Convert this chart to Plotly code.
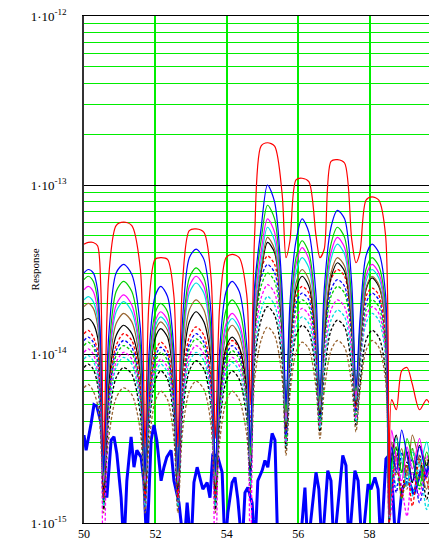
import plotly.graph_objects as go

# shared x positions (lobes separated by nulls)
x_grid = [
    50.00, 50.12, 50.26, 50.38, 50.47, 50.55,
    50.69, 50.90, 51.11, 51.34, 51.58, 51.71,
    51.82, 51.99, 52.15, 52.34, 52.52, 52.63,
    52.76, 52.95, 53.14, 53.36, 53.56, 53.68,
    53.80, 53.98, 54.15, 54.35, 54.56, 54.66,
    54.78, 54.96, 55.14, 55.34, 55.55, 55.66,
    55.77, 55.94, 56.11, 56.30, 56.50, 56.61,
    56.73, 56.92, 57.10, 57.30, 57.50, 57.62,
    57.73, 57.90, 58.07, 58.26, 58.45, 58.55,
    58.62, 58.75, 58.90, 59.05, 59.20, 59.40, 59.60, 59.80, 60.00,
]

# log10(Response)
red_solid = [
    -13.35, -13.34, -13.34, -13.36, -13.60, -14.60,
    -13.55, -13.24, -13.22, -13.24, -13.50, -14.55,
    -13.70, -13.44, -13.43, -13.44, -13.66, -14.55,
    -13.58, -13.27, -13.26, -13.28, -13.55, -14.50,
    -13.72, -13.43, -13.41, -13.43, -13.65, -14.30,
    -13.30, -12.77, -12.75, -12.77, -13.05, -13.43,
    -13.33, -12.97, -12.96, -12.98, -13.30, -13.43,
    -13.38, -12.86, -12.85, -12.87, -13.32, -13.46,
    -13.40, -13.09, -13.07, -13.09, -13.30, -14.95,
    -14.27, -14.33, -14.10, -14.08, -14.18, -14.33, -14.27, -14.33, -14.30,
]
blue_solid = [
    -13.52, -13.50, -13.52, -13.62, -13.95, -14.70,
    -13.90, -13.52, -13.47, -13.53, -13.85, -14.70,
    -14.00, -13.66, -13.60, -13.66, -13.98, -14.70,
    -13.80, -13.43, -13.38, -13.44, -13.76, -14.70,
    -13.98, -13.63, -13.57, -13.63, -13.95, -14.55,
    -13.60, -13.26, -13.00, -13.10, -13.62, -14.30,
    -13.70, -13.33, -13.20, -13.28, -13.65, -14.25,
    -13.62, -13.25, -13.15, -13.20, -13.58, -14.20,
    -13.80, -13.42, -13.35, -13.40, -13.65, -14.95,
    -14.55, -14.70, -14.45, -14.60, -14.75, -14.55, -14.70, -14.60, -14.65,
]
green_solid = [
    -13.56, -13.54, -13.57, -13.68, -14.00, -14.72,
    -14.00, -13.63, -13.57, -13.63, -13.95, -14.72,
    -14.08, -13.76, -13.70, -13.75, -14.05, -14.72,
    -13.90, -13.55, -13.49, -13.55, -13.86, -14.72,
    -14.05, -13.74, -13.68, -13.74, -14.02, -14.60,
    -13.65, -13.33, -13.12, -13.20, -13.70, -14.35,
    -13.78, -13.43, -13.33, -13.40, -13.75, -14.28,
    -13.70, -13.35, -13.25, -13.31, -13.68, -14.22,
    -13.85, -13.50, -13.43, -13.48, -13.72, -14.95,
    -14.65, -14.55, -14.70, -14.50, -14.62, -14.78, -14.58, -14.70, -14.62,
]
magenta_solid = [
    -13.62, -13.60, -13.63, -13.74, -14.05, -14.75,
    -14.05, -13.71, -13.65, -13.71, -14.00, -14.75,
    -14.12, -13.81, -13.75, -13.80, -14.10, -14.75,
    -13.95, -13.60, -13.54, -13.60, -13.90, -14.75,
    -14.12, -13.82, -13.76, -13.82, -14.08, -14.62,
    -13.72, -13.40, -13.20, -13.28, -13.75, -14.38,
    -13.82, -13.47, -13.37, -13.44, -13.80, -14.30,
    -13.75, -13.40, -13.31, -13.37, -13.72, -14.25,
    -13.88, -13.54, -13.47, -13.52, -13.76, -14.96,
    -14.45, -14.62, -14.75, -14.55, -14.68, -14.50, -14.72, -14.58, -14.66,
]
cyan_solid = [
    -13.68, -13.66, -13.69, -13.79, -14.08, -14.76,
    -14.08, -13.75, -13.69, -13.75, -14.03, -14.76,
    -14.15, -13.84, -13.78, -13.83, -14.12, -14.76,
    -13.98, -13.64, -13.58, -13.64, -13.93, -14.76,
    -14.15, -13.85, -13.79, -13.85, -14.10, -14.64,
    -13.76, -13.45, -13.25, -13.33, -13.78, -14.40,
    -13.86, -13.52, -13.43, -13.49, -13.83, -14.32,
    -13.78, -13.44, -13.35, -13.41, -13.75, -14.27,
    -13.90, -13.57, -13.50, -13.55, -13.78, -14.97,
    -14.70, -14.50, -14.62, -14.78, -14.58, -14.66, -14.52, -14.74, -14.60,
]
brown_solid = [
    -13.72, -13.70, -13.73, -13.83, -14.10, -14.78,
    -14.12, -13.82, -13.76, -13.81, -14.08, -14.78,
    -14.18, -13.87, -13.81, -13.86, -14.15, -14.78,
    -14.05, -13.74, -13.68, -13.74, -14.00, -14.78,
    -14.20, -13.89, -13.83, -13.89, -14.15, -14.66,
    -13.82, -13.50, -13.31, -13.38, -13.82, -14.42,
    -13.92, -13.58, -13.50, -13.56, -13.88, -14.34,
    -13.85, -13.52, -13.43, -13.48, -13.80, -14.28,
    -13.95, -13.61, -13.54, -13.59, -13.82, -14.97,
    -14.52, -14.68, -14.56, -14.72, -14.48, -14.64, -14.80, -14.56, -14.70,
]
black_solid = [
    -13.80, -13.79, -13.82, -13.90, -14.15, -14.80,
    -14.18, -13.89, -13.83, -13.88, -14.12, -14.80,
    -14.20, -13.91, -13.85, -13.90, -14.18, -14.80,
    -14.10, -13.81, -13.75, -13.81, -14.05, -14.80,
    -14.25, -13.96, -13.90, -13.96, -14.20, -14.68,
    -13.85, -13.52, -13.34, -13.40, -13.85, -14.44,
    -13.95, -13.62, -13.54, -13.60, -13.90, -14.36,
    -13.88, -13.55, -13.46, -13.51, -13.82, -14.30,
    -13.96, -13.62, -13.55, -13.60, -13.82, -14.98,
    -14.62, -14.48, -14.70, -14.58, -14.76, -14.54, -14.66, -14.50, -14.72,
]
red_dotted = [
    -13.88, -13.86, -13.90, -13.98, -14.25, -14.85,
    -14.22, -13.95, -13.88, -13.92, -14.20, -14.85,
    -14.28, -13.99, -13.93, -13.98, -14.25, -14.85,
    -14.18, -13.90, -13.84, -13.89, -14.15, -14.85,
    -14.26, -13.98, -13.92, -13.97, -14.22, -14.40,
    -13.80, -13.50, -13.42, -13.47, -13.80, -14.45,
    -13.98, -13.66, -13.60, -13.64, -13.95, -14.35,
    -13.88, -13.56, -13.50, -13.54, -13.85, -14.32,
    -13.98, -13.66, -13.61, -13.65, -13.90, -15.00,
    -14.80, -14.60, -14.85, -14.66, -14.90, -14.62, -14.75, -14.85, -14.68,
]
blue_dotted = [
    -13.92, -13.90, -13.93, -14.02, -14.28, -14.86,
    -14.26, -13.98, -13.92, -13.96, -14.22, -14.86,
    -14.30, -14.02, -13.96, -14.01, -14.28, -14.86,
    -14.22, -13.94, -13.88, -13.93, -14.18, -14.86,
    -14.30, -14.01, -13.95, -14.00, -14.25, -14.72,
    -13.85, -13.55, -13.47, -13.52, -13.84, -14.48,
    -14.00, -13.70, -13.64, -13.68, -13.98, -14.38,
    -13.92, -13.62, -13.56, -13.60, -13.88, -14.34,
    -14.02, -13.70, -13.64, -13.68, -13.92, -15.00,
    -14.66, -14.82, -14.58, -14.74, -14.62, -14.88, -14.70, -14.64, -14.78,
]
green_dotted = [
    -13.95, -13.93, -13.96, -14.05, -14.30, -14.87,
    -14.28, -14.01, -13.95, -13.99, -14.25, -14.87,
    -14.33, -14.05, -13.99, -14.04, -14.30, -14.87,
    -14.25, -13.97, -13.91, -13.96, -14.20, -14.87,
    -14.32, -14.04, -13.98, -14.03, -14.28, -14.74,
    -13.90, -13.60, -13.52, -13.57, -13.88, -14.50,
    -14.04, -13.74, -13.68, -13.72, -14.00, -14.40,
    -13.96, -13.66, -13.60, -13.64, -13.92, -14.36,
    -14.05, -13.74, -13.68, -13.72, -13.95, -15.00,
    -14.74, -14.60, -14.86, -14.68, -14.56, -14.80, -14.64, -14.90, -14.70,
]
magenta_dotted = [
    -13.99, -13.97, -14.00, -14.10, -14.35, -15.40,
    -14.32, -14.05, -13.99, -14.03, -14.28, -14.88,
    -14.36, -14.09, -14.03, -14.08, -14.33, -14.88,
    -14.28, -14.01, -13.95, -14.00, -14.25, -15.40,
    -14.35, -14.08, -14.02, -14.07, -14.30, -15.40,
    -13.95, -13.67, -13.59, -13.64, -13.94, -14.52,
    -14.08, -13.79, -13.73, -13.77, -14.04, -14.42,
    -14.02, -13.74, -13.68, -13.72, -13.98, -14.38,
    -14.08, -13.78, -13.72, -13.76, -13.98, -15.00,
    -14.90, -14.64, -14.78, -14.96, -14.70, -14.84, -14.60, -14.76, -14.88,
]
cyan_dotted = [
    -14.03, -14.01, -14.04, -14.13, -14.38, -14.90,
    -14.35, -14.08, -14.02, -14.06, -14.32, -14.90,
    -14.40, -14.12, -14.06, -14.11, -14.36, -14.90,
    -14.32, -14.05, -13.99, -14.04, -14.28, -14.90,
    -14.38, -14.11, -14.05, -14.10, -14.33, -14.78,
    -14.00, -13.74, -13.66, -13.71, -13.98, -14.54,
    -14.12, -13.84, -13.78, -13.82, -14.08, -14.44,
    -14.06, -13.80, -13.74, -13.78, -14.02, -14.40,
    -14.10, -13.82, -13.76, -13.80, -14.02, -15.00,
    -14.62, -14.78, -14.70, -14.58, -14.84, -14.66, -14.92, -14.72, -14.64,
]
black_dotted = [
    -14.08, -14.06, -14.09, -14.18, -14.42, -14.92,
    -14.40, -14.14, -14.08, -14.12, -14.36, -14.88,
    -14.44, -14.16, -14.10, -14.15, -14.40, -14.90,
    -14.36, -14.10, -14.04, -14.09, -14.32, -14.92,
    -14.42, -14.16, -14.10, -14.15, -14.38, -14.80,
    -14.05, -13.80, -13.72, -13.77, -14.04, -14.56,
    -14.16, -13.89, -13.83, -13.87, -14.12, -14.46,
    -14.12, -13.86, -13.80, -13.84, -14.08, -14.42,
    -14.18, -13.92, -13.86, -13.90, -14.10, -15.00,
    -14.70, -14.56, -14.82, -14.64, -14.76, -14.60, -14.86, -14.68, -14.74,
]
brown_dotted = [
    -14.20, -14.18, -14.22, -14.30, -14.50, -14.94,
    -14.50, -14.26, -14.20, -14.24, -14.46, -14.94,
    -14.54, -14.28, -14.22, -14.27, -14.50, -14.94,
    -14.46, -14.22, -14.16, -14.21, -14.42, -14.94,
    -14.52, -14.28, -14.22, -14.27, -14.48, -14.82,
    -14.15, -13.92, -13.84, -13.89, -14.14, -14.60,
    -14.24, -13.99, -13.93, -13.97, -14.20, -14.50,
    -14.22, -13.98, -13.92, -13.96, -14.18, -14.46,
    -14.22, -13.98, -13.92, -13.96, -14.16, -15.00,
    -14.58, -14.72, -14.64, -14.80, -14.56, -14.74, -14.62, -14.88, -14.66,
]

# thick blue noise-floor trace
noise_x = [
    50.00, 50.06, 50.20, 50.28, 50.36, 50.48, 50.56, 50.64, 50.76, 50.84,
    50.92, 51.04, 51.12, 51.20, 51.32, 51.40, 51.48, 51.60, 51.68, 51.76,
    51.88, 51.96, 52.04, 52.16, 52.24, 52.32, 52.44, 52.52, 52.66, 52.80,
    52.89, 53.00, 53.08, 53.17, 53.28, 53.33, 53.45, 53.53, 53.61, 53.75,
    53.87, 53.95, 54.03, 54.15, 54.23, 54.31, 54.43, 54.51, 54.59, 54.71,
    54.79, 54.87, 54.99, 55.07, 55.15, 55.27, 55.35, 55.43, 55.77, 56.05,
    56.19, 56.27, 56.50, 56.58, 56.67, 56.83, 56.92, 57.00, 57.25, 57.34,
    57.42, 57.59, 57.68, 57.79, 57.96, 58.04, 58.15, 58.24, 58.32, 58.46,
    58.54, 58.63, 58.74, 58.91, 59.02, 59.13, 59.24, 59.36, 59.47, 59.58,
    59.69, 59.80, 59.89,
]
noise_log = [
    -14.48, -14.57, -14.41, -14.30, -14.31, -14.41, -14.70, -14.85, -14.51, -14.49,
    -14.59, -14.85, -15.15, -14.75, -14.49, -14.67, -14.57, -14.61, -14.76, -15.15,
    -14.51, -14.42, -14.51, -14.75, -14.67, -14.61, -14.57, -14.75, -14.88, -15.15,
    -14.88, -15.15, -14.76, -14.67, -14.76, -14.80, -14.76, -14.85, -14.59, -14.61,
    -14.70, -15.15, -14.94, -14.76, -14.73, -14.86, -15.15, -14.82, -14.79, -14.88,
    -15.15, -14.75, -14.69, -14.63, -14.67, -14.47, -14.51, -15.15, -15.20, -15.15,
    -14.79, -15.15, -14.70, -14.80, -15.15, -14.69, -14.75, -15.15, -14.60, -14.66,
    -15.15, -14.69, -14.75, -15.15, -14.77, -14.80, -14.73, -14.80, -15.15, -14.62,
    -14.60, -14.75, -15.15, -14.80, -14.76, -14.77, -14.83, -14.75, -14.67, -14.73,
    -14.63, -14.86, -14.75,
]

x_ticks = [50, 52, 54, 56, 58]
y_ticks = [1e-15, 1e-14, 1e-13, 1e-12]
y_tick_text = ["1·10<sup>-15</sup>", "1·10<sup>-14</sup>",
               "1·10<sup>-13</sup>", "1·10<sup>-12</sup>"]
y_minor = [m * 10.0 ** e for e in (-15, -14, -13) for m in range(2, 10)]

BROWN = "#996633"
dotted_series = [
    (brown_dotted, BROWN), (black_dotted, "#000000"), (cyan_dotted, "#00e0e0"),
    (magenta_dotted, "#ff00ff"), (green_dotted, "#00d000"),
    (blue_dotted, "#0000ff"), (red_dotted, "#ff0000"),
]
solid_series = [
    (black_solid, "#000000"), (brown_solid, BROWN), (cyan_solid, "#00e0e0"),
    (magenta_solid, "#ff00ff"), (green_solid, "#00d000"),
    (blue_solid, "#0000ff"), (red_solid, "#ff0000"),
]

fig = go.Figure()
fig.add_trace(go.Scatter(
    x=noise_x, y=[10 ** v for v in noise_log], mode="lines",
    line=dict(color="#0000ff", width=3), hoverinfo="skip", showlegend=False))
for vals, col in dotted_series:
    fig.add_trace(go.Scatter(
        x=x_grid, y=[10 ** v for v in vals], mode="lines",
        line=dict(color=col, width=1.3, dash="3px,2px", shape="spline", smoothing=0.8),
        hoverinfo="skip", showlegend=False))
for vals, col in solid_series:
    fig.add_trace(go.Scatter(
        x=x_grid, y=[10 ** v for v in vals], mode="lines",
        line=dict(color=col, width=1.2, shape="spline", smoothing=0.8),
        hoverinfo="skip", showlegend=False))

serif = "Liberation Serif, Times New Roman, serif"
# the page body adds an 8px margin, so the figure is 8px smaller each way
fig.update_layout(
    width=429, height=532,
    margin=dict(l=76, r=0, t=8, b=17),
    paper_bgcolor="white", plot_bgcolor="white",
    font=dict(family=serif, size=13, color="black"),
    showlegend=False,
    xaxis=dict(
        range=[50, 59.89], tickmode="array", tickvals=x_ticks,
        ticks="", showgrid=True, gridcolor="#00ee00", gridwidth=1.5,
        showline=True, linecolor="black", linewidth=1, mirror=True,
        zeroline=False, automargin=False, ticklabeloverflow="allow",
        tickfont=dict(family=serif, size=12),
    ),
    yaxis=dict(
        type="log", range=[-15, -12], tickmode="array",
        tickvals=y_ticks, ticktext=y_tick_text, ticks="",
        showgrid=True, gridcolor="black", gridwidth=1,
        showline=True, linecolor="#333333", linewidth=1.5,
        zeroline=False, automargin=False, ticklabelstandoff=13,
        ticklabeloverflow="allow",
        tickfont=dict(family=serif, size=13),
        minor=dict(tickmode="array", tickvals=y_minor, showgrid=True,
                   gridcolor="#00ee00", gridwidth=1, ticks=""),
    ),
    annotations=[
        dict(text="Response", xref="paper", yref="paper", x=-0.139, y=0.5,
             textangle=-90, showarrow=False, font=dict(family=serif, size=11),
             xanchor="center", yanchor="middle"),
        dict(text="60", xref="paper", yref="paper", x=0.9887, y=0,
             yanchor="top", xanchor="left", showarrow=False, yshift=-1,
             font=dict(family=serif, size=12)),
    ],
)

fig.write_html("out.html")
